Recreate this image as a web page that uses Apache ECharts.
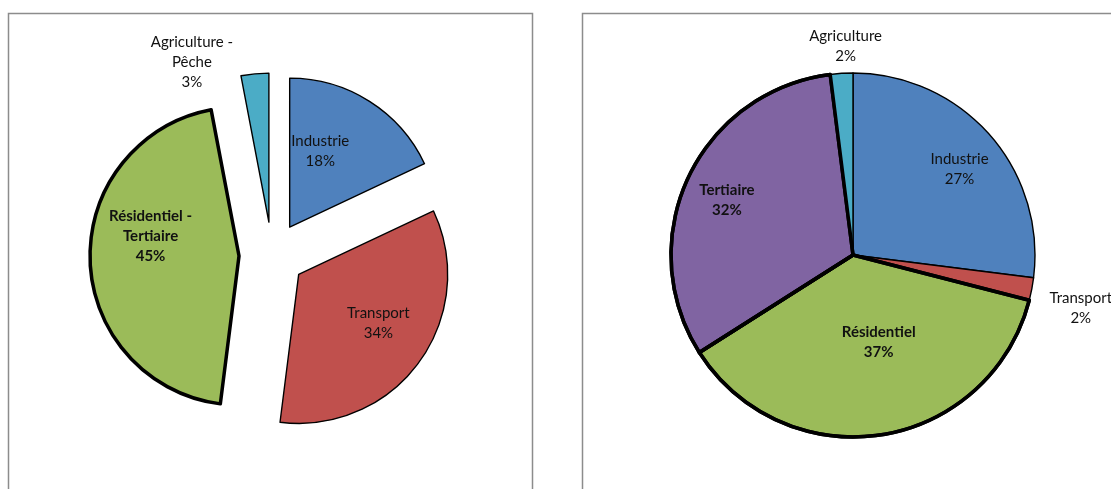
<!DOCTYPE html>
<html>
<head>
<meta charset="utf-8">
<script src="https://cdn.jsdelivr.net/npm/echarts@6/dist/echarts.min.js"></script>
<style>
  html, body { margin: 0; padding: 0; background: #fff; }
  #chart { width: 1111px; height: 489px; }
</style>
</head>
<body>
<div id="chart"></div>
<script>
// left pie (exploded)
const leftNames = ['Industrie', 'Transport', 'Résidentiel - Tertiaire', 'Agriculture - Pêche']
const leftLabels = ['Industrie', 'Transport', 'Résidentiel -\nTertiaire', 'Agriculture -\nPêche']
const leftValues = [18, 34, 45, 3]

// right pie
const rightNames = ['Industrie', 'Transport', 'Résidentiel', 'Tertiaire', 'Agriculture']
const rightValues = [27, 2, 37, 32, 2]

const colors = {
  'Industrie': '#4F81BD',
  'Transport': '#C0504D',
  'Résidentiel - Tertiaire': '#9BBB59',
  'Résidentiel': '#9BBB59',
  'Tertiaire': '#8064A2',
  'Agriculture - Pêche': '#4BACC6',
  'Agriculture': '#4BACC6',
}
const boldItems = ['Résidentiel - Tertiaire', 'Résidentiel', 'Tertiaire']
const outsideItems = ['Agriculture - Pêche', 'Agriculture', 'Transport#right']

// label nudges to sit where Excel put them
const leftNudge = [[-11, -11], [17, 3], [-11, -22], [-63, -12]]
const rightNudge = [[36, -24], [49, 19], [11, -6], [-41, -15], [4, -27]]

const fontFamily = 'Lato, "Open Sans", sans-serif'

function pieData(names, values, labels, side) {
  return names.map((name, i) => {
    const bold = boldItems.includes(name)
    const outside = outsideItems.includes(name) || outsideItems.includes(name + '#' + side)
    return {
      name: name,
      value: values[i],
      selected: side === 'left',
      itemStyle: {
        color: colors[name],
        borderColor: '#000',
        borderWidth: bold ? 3.5 : 1.4,
      },
      label: {
        position: outside ? 'outside' : 'inside',
        fontWeight: bold ? 'bold' : 'normal',
        formatter: () => `${labels[i]}\n${values[i]}%`,
      },
      labelLine: { show: false, length: 0, length2: 0 },
    }
  })
}

const chart = echarts.init(document.getElementById('chart'))

const commonLabel = {
  show: true,
  color: '#111',
  fontFamily: fontFamily,
  fontSize: 15,
  lineHeight: 20,
  align: 'center',
  distanceToLabelLine: 0,
}

chart.setOption({
  animation: false,
  graphic: [
    {
      type: 'rect',
      shape: { x: 8.5, y: 13.5, width: 524, height: 500 },
      style: { fill: 'none', stroke: '#8c8c8c', lineWidth: 1.5 },
      silent: true,
    },
    {
      type: 'rect',
      shape: { x: 582.5, y: 13.5, width: 560, height: 500 },
      style: { fill: 'none', stroke: '#8c8c8c', lineWidth: 1.5 },
      silent: true,
    },
  ],
  series: [
    {
      type: 'pie',
      center: [272, 255],
      radius: 149,
      startAngle: 90,
      clockwise: true,
      selectedMode: 'multiple',
      selectedOffset: 33,
      avoidLabelOverlap: false,
      emphasis: { disabled: true },
      select: { itemStyle: { borderColor: '#000' } },
      label: commonLabel,
      labelLayout: (params) => ({
        dx: leftNudge[params.dataIndex][0],
        dy: leftNudge[params.dataIndex][1],
        align: 'center',
        verticalAlign: 'middle',
      }),
      data: pieData(leftNames, leftValues, leftLabels, 'left'),
    },
    {
      type: 'pie',
      center: [853, 255],
      radius: 182,
      startAngle: 90,
      clockwise: true,
      avoidLabelOverlap: false,
      emphasis: { disabled: true },
      label: commonLabel,
      labelLayout: (params) => ({
        dx: rightNudge[params.dataIndex][0],
        dy: rightNudge[params.dataIndex][1],
        align: 'center',
        verticalAlign: 'middle',
      }),
      data: pieData(rightNames, rightValues, rightNames, 'right'),
    },
    {
      // thick outlines redrawn on top so neighbouring slices don't cover them
      type: 'pie',
      center: [853, 255],
      radius: 182,
      startAngle: 90,
      clockwise: true,
      silent: true,
      emphasis: { disabled: true },
      label: { show: false },
      labelLine: { show: false },
      data: rightNames.map((name, i) => ({
        name: name,
        value: rightValues[i],
        itemStyle: {
          color: 'transparent',
          borderColor: boldItems.includes(name) ? '#000' : 'transparent',
          borderWidth: boldItems.includes(name) ? 3.5 : 0,
        },
      })),
    },
  ],
})
</script>
</body>
</html>
